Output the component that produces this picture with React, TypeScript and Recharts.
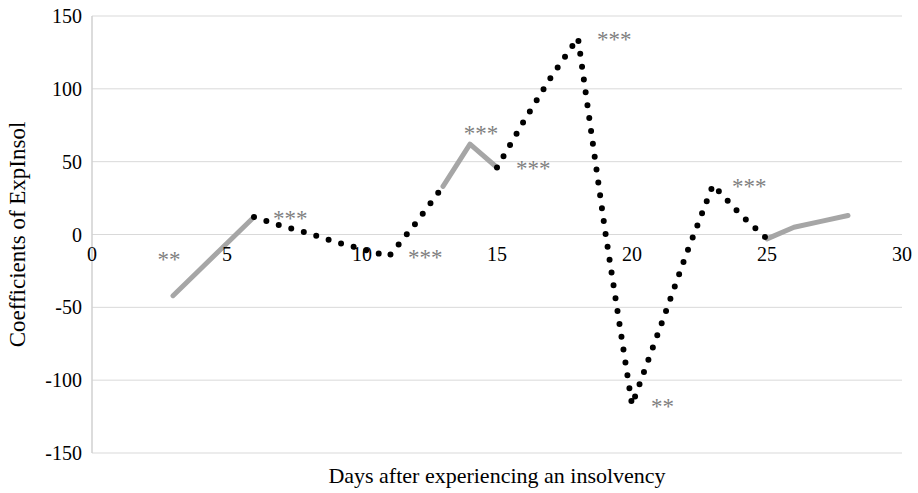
import React from 'react';
import {
  LineChart,
  Line,
  XAxis,
  YAxis,
  CartesianGrid,
  ReferenceDot,
  LabelList,
} from 'recharts';

// days after insolvency and estimated coefficient values
const days = [3, 4, 5, 6, 7, 8, 9, 10, 11, 12, 13, 14, 15, 16, 17, 18, 19, 20, 21, 22, 23, 24, 25, 26, 27, 28];
const coefs = [-42, -24, -6, 12, 6, 1, -5, -10, -15, 8, 33, 62, 46, 78, 108, 135, 3, -117, -66, -14, 34, 14, -3, 5, 9, 13];
// significance stars shown next to some points
const stars = ['**', '', '', '***', '', '', '', '', '***', '', '', '***', '***', '', '', '***', '', '**', '', '', '***', '', '', '', '', ''];

// which stretches are drawn solid grey and which dotted black
const solidRuns = [[3, 6], [13, 15], [25, 28]];
const dottedRuns = [[6, 13], [15, 25]];

const xTicks = [0, 5, 10, 15, 20, 25, 30];
const yTicks = [-150, -100, -50, 0, 50, 100, 150];

const FONT = '"Liberation Serif", "Times New Roman", serif';

const inRuns = (d: number, runs: number[][]) => runs.some(([a, b]) => d >= a && d <= b);

const rows = days.map((d, i) => ({
  day: d,
  coef: coefs[i],
  solid: inRuns(d, solidRuns) ? coefs[i] : null,
  dotted: inRuns(d, dottedRuns) ? coefs[i] : null,
  star: stars[i],
}));

// label placement tweaks (default: to the right of the point)
const starPlacement: Record<number, { anchor: string; dx: number; dy: number }> = {
  3: { anchor: 'middle', dx: -4, dy: -29 },
  14: { anchor: 'middle', dx: 11, dy: -3 },
};

const StarLabel = (props: any) => {
  const { x, y, index } = props;
  const s = stars[index];
  if (!s) return null;
  const p = starPlacement[days[index]] || { anchor: 'start', dx: 19, dy: 9 };
  return (
    <text x={x + p.dx} y={y + p.dy} textAnchor={p.anchor} fontFamily={FONT} fontSize={23} fill="#7f7f7f">
      {s}
    </text>
  );
};

const YTitle = (props: any) => {
  const { viewBox } = props;
  const cx = viewBox.x + 17;
  const cy = viewBox.y + viewBox.height / 2;
  return (
    <text
      x={cx}
      y={cy}
      transform={`rotate(-90, ${cx}, ${cy})`}
      textAnchor="middle"
      dominantBaseline="central"
      fontFamily={FONT}
      fontSize={23}
      fill="#000"
    >
      Coefficients of ExpInsol
    </text>
  );
};

export default function App() {
  return (
    <div style={{ position: 'absolute', left: 0, top: 0, background: '#fff' }}>
      <LineChart width={918} height={493} data={rows} margin={{ top: 16, right: 16, bottom: 0, left: 0 }}>
        <CartesianGrid vertical={false} stroke="#d9d9d9" />
        <XAxis
          dataKey="day"
          type="number"
          domain={[0, 30]}
          ticks={xTicks}
          tick={false}
          axisLine={false}
          tickLine={false}
          height={40}
          label={{ value: 'Days after experiencing an insolvency', position: 'center', dy: 2, fontFamily: FONT, fontSize: 22, fill: '#000' }}
        />
        <YAxis
          type="number"
          domain={[-150, 150]}
          ticks={yTicks}
          width={92}
          tickSize={0}
          tickMargin={10}
          tickLine={false}
          axisLine={{ stroke: '#d0d0d0', strokeWidth: 1.5 }}
          tick={{ fontFamily: FONT, fontSize: 20, fill: '#000' }}
          label={<YTitle />}
        />
        {xTicks.map((t) => (
          <ReferenceDot
            key={t}
            x={t}
            y={0}
            r={0}
            fill="none"
            stroke="none"
            ifOverflow="visible"
            label={{ value: t, position: 'bottom', offset: 12, fontFamily: FONT, fontSize: 20, fill: '#000' }}
          />
        ))}
        <Line
          dataKey="solid"
          stroke="#a6a6a6"
          strokeWidth={5}
          strokeLinecap="round"
          strokeLinejoin="round"
          dot={false}
          activeDot={false}
          connectNulls={false}
          isAnimationActive={false}
        />
        <Line
          dataKey="dotted"
          stroke="#000"
          strokeWidth={6}
          strokeLinecap="round"
          strokeDasharray="0 13"
          dot={false}
          activeDot={false}
          connectNulls={false}
          isAnimationActive={false}
        />
        <Line dataKey="coef" stroke="none" dot={false} activeDot={false} isAnimationActive={false}>
          <LabelList dataKey="star" content={<StarLabel />} />
        </Line>
      </LineChart>
    </div>
  );
}
